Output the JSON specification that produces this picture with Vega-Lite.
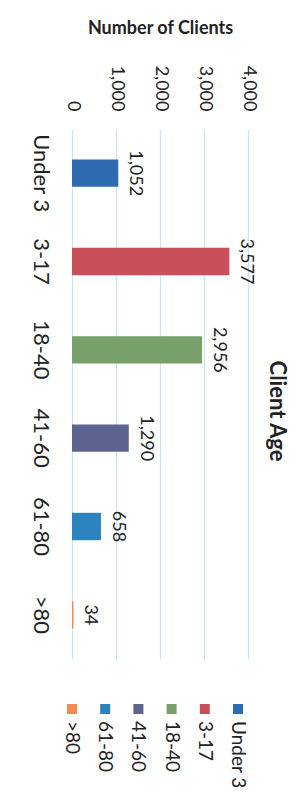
{
  "$schema": "https://vega.github.io/schema/vega-lite/v6.json",
  "background": "white",
  "padding": {"left": 29, "top": 19, "right": 10, "bottom": 5},
  "bounds": "flush",
  "spacing": 40,
  "config": {"view": {"stroke": null}, "font": "Lato", "text": {"color": "#222"}},
  "datasets": {
    "ages": [
      {"age": "Under 3", "clients": 1052},
      {"age": "3-17", "clients": 3577},
      {"age": "18-40", "clients": 2956},
      {"age": "41-60", "clients": 1290},
      {"age": "61-80", "clients": 658},
      {"age": ">80", "clients": 34}
    ]
  },
  "vconcat": [
    {
      "width": 176,
      "height": 530,
      "data": {"name": "ages"},
      "title": {"text": "Client Age", "orient": "right", "anchor": "middle", "fontSize": 22, "fontWeight": "bold", "color": "#222", "offset": 8, "dx": 17},
      "encoding": {
        "y": {
          "field": "age", "type": "nominal",
          "sort": ["Under 3", "3-17", "18-40", "41-60", "61-80", ">80"],
          "scale": {"paddingInner": 0.69, "paddingOuter": 0.345},
          "axis": {"title": null, "labelAngle": 90, "labelAlign": "center", "labelBaseline": "middle", "labelPadding": 32, "ticks": false, "domain": false, "grid": false, "labelFontSize": 22, "labelColor": "#222"}
        },
        "x": {
          "field": "clients", "type": "quantitative",
          "scale": {"domain": [0, 4000], "nice": false},
          "axis": {"orient": "top", "values": [0, 1000, 2000, 3000, 4000], "format": ",d", "labelAngle": 90, "labelAlign": "right", "labelBaseline": "middle", "labelPadding": 18, "labelFlush": false, "labelOverlap": false, "ticks": false, "domain": false, "grid": true, "gridColor": "#c9e4f6", "gridWidth": 1.2, "title": "Number of Clients", "titleFontSize": 18, "titleFontWeight": "bold", "titlePadding": 28, "titleColor": "#222", "labelFontSize": 18, "labelColor": "#222"}
        }
      },
      "layer": [
        {
          "mark": {"type": "bar"},
          "encoding": {
            "color": {
              "field": "age", "type": "nominal", "legend": null,
              "scale": {"domain": ["Under 3", "3-17", "18-40", "41-60", "61-80", ">80"], "range": ["#2e6bb0", "#c8505b", "#77a06b", "#5d6491", "#2d83bd", "#f28a50"]}
            }
          }
        },
        {
          "mark": {"type": "text", "angle": 90, "align": "center", "baseline": "bottom", "dy": -8, "fontSize": 18},
          "encoding": {"text": {"field": "clients", "type": "quantitative", "format": ",d"}}
        }
      ]
    },
    {
      "width": 166,
      "height": 20,
      "data": {"name": "ages"},
      "encoding": {
        "x": {"field": "age", "type": "nominal", "sort": [">80", "61-80", "41-60", "18-40", "3-17", "Under 3"], "scale": {"type": "point", "padding": 0}, "axis": null}
      },
      "layer": [
        {
          "mark": {"type": "point", "shape": "square", "filled": true, "size": 100, "opacity": 1},
          "encoding": {
            "color": {
              "field": "age", "type": "nominal", "legend": null,
              "scale": {"domain": ["Under 3", "3-17", "18-40", "41-60", "61-80", ">80"], "range": ["#2e6bb0", "#c8505b", "#77a06b", "#5d6491", "#2d83bd", "#f28a50"]}
            }
          }
        },
        {
          "mark": {"type": "text", "angle": 90, "align": "left", "baseline": "middle", "dx": 12, "fontSize": 19},
          "encoding": {"text": {"field": "age", "type": "nominal"}}
        }
      ]
    }
  ]
}
